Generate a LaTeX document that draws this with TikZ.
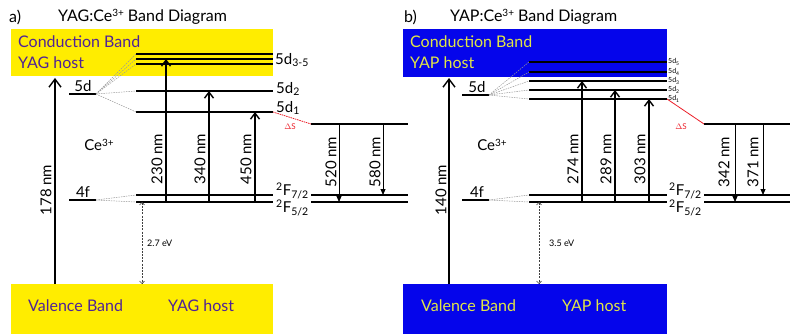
\documentclass[tikz,border=0pt]{standalone}
\usepackage{fontspec}
\setmainfont{Lato}
\usetikzlibrary{arrows.meta}
\definecolor{bandyellow}{RGB}{255,237,0}
\definecolor{bandblue}{RGB}{5,5,235}
\definecolor{txtpurple}{RGB}{80,35,150}
\definecolor{txtyellow}{RGB}{225,230,70}
\definecolor{dsred}{RGB}{235,30,40}
\tikzset{
  lvl/.style={line width=1.3pt},
  lvlthick/.style={line width=2.2pt},
  fan/.style={gray!80, dash pattern=on 1.5pt off 1pt, line width=0.5pt},
  uparr/.style={line width=1.4pt, -{Straight Barb[length=6pt,width=9pt,line width=1.4pt]}},
  bigarr/.style={line width=1.4pt, -{Straight Barb[length=8pt,width=12pt,line width=1.4pt]}},
  dnarr/.style={line width=1pt, -{Triangle[length=6pt,width=5pt]}},
  gaparr/.style={line width=0.6pt, black!75, dash pattern=on 2pt off 1.2pt, {Straight Barb[length=2.5pt,width=5pt,line width=0.6pt]}-{Straight Barb[length=2.5pt,width=5pt,line width=0.6pt]}},
  lab/.style={inner sep=0pt, font=\fontsize{15}{17}\selectfont},
  vlab/.style={inner sep=0pt, rotate=90, font=\fontsize{15}{17}\selectfont},
  bandtxt/.style={inner sep=0pt, anchor=west, font=\fontsize{16}{18}\selectfont},
  small/.style={inner sep=0pt, anchor=west, font=\fontsize{9}{10}\selectfont},
  tiny/.style={inner sep=0pt, anchor=west, font=\fontsize{7}{7}\selectfont},
  title/.style={inner sep=0pt, anchor=west, font=\fontsize{16}{18}\selectfont},
}
\newcommand{\sups}[1]{\raisebox{0.6ex}{\fontsize{10}{10}\selectfont #1}}
\begin{document}
\begin{tikzpicture}[x=1pt,y=-1pt]
\useasboundingbox (0,0) rectangle (790,334);
% ================= panel a =================
\fill[bandyellow] (11,29) rectangle (273,76);
\fill[bandyellow] (11,284) rectangle (273,334);
\node[title] (ta) at (9,17) {a)};
\node[title] (tta) at (58,17) {YAG:Ce\sups{3+} Band Diagram};
\node[bandtxt, text=txtpurple] (cba) at (18,42) {Conduction Band};
\node[bandtxt, text=txtpurple] (cha) at (18,63) {YAG host};
\node[bandtxt, text=txtpurple] (vba) at (28,306) {Valence Band};
\node[bandtxt, text=txtpurple] (vha) at (168,306) {YAG host};
% levels
\coordinate (a5d0) at (69,94); \coordinate (a5d) at (96,94);
\coordinate (a4f0) at (69,200); \coordinate (a4f) at (96,200);
\draw[lvl] (a5d0) -- (a5d);
\draw[lvl] (a4f0) -- (a4f);
\node[lab] (a5dl) at (83,86) {5d};
\node[lab] (a4fl) at (83,192) {4f};
\node[lab] (acel) at (99,145) {Ce\sups{3+}};
\foreach \n/\y in {a/54,b/59,c/64}{
  \coordinate (a53\n L) at (136,\y); \coordinate (a53\n R) at (273,\y);
  \draw[lvlthick] (a53\n L) -- (a53\n R);
  \draw[fan] (a5d) -- (a53\n L);
}
\coordinate (a52L) at (136,91); \coordinate (a52R) at (273,91);
\coordinate (a51L) at (136,112); \coordinate (a51R) at (273,112);
\draw[lvl] (a52L) -- (a52R); \draw[fan] (a5d) -- (a52L);
\draw[lvl] (a51L) -- (a51R); \draw[fan] (a5d) -- (a51L);
\coordinate (aF7L) at (136,195); \coordinate (aF7R) at (273,195);
\coordinate (aF5L) at (136,202); \coordinate (aF5R) at (273,202);
\draw[lvl] (aF7L) -- (aF7R); \draw[fan] (a4f) -- (aF7L);
\draw[lvl] (aF5L) -- (aF5R); \draw[fan] (a4f) -- (aF5L);
\node[lab, anchor=west] (a535l) at (275,60) {5d\textsubscript{3-5}};
\node[lab, anchor=west] (a52l) at (276,89) {5d\textsubscript{2}};
\node[lab, anchor=west] (a51l) at (276,108) {5d\textsubscript{1}};
\node[lab, anchor=west] (aF7l) at (276,191) {\textsuperscript{2}F\textsubscript{7/2}};
\node[lab, anchor=west] (aF5l) at (276,208) {\textsuperscript{2}F\textsubscript{5/2}};
% relaxed levels
\coordinate (aRL) at (311,124); \coordinate (aRR) at (408,124);
\coordinate (aG7L) at (311,195); \coordinate (aG7R) at (408,195);
\coordinate (aG5L) at (311,202); \coordinate (aG5R) at (408,202);
\draw[lvl] (aRL) -- (aRR);
\draw[lvl] (aG7L) -- (aG7R);
\draw[lvl] (aG5L) -- (aG5R);
\draw[dsred, line width=0.8pt, dash pattern=on 1.5pt off 0.8pt] (a51R) -- (aRL);
\node[inner sep=0pt, text=dsred, font=\fontsize{8}{9}\selectfont] (adsl) at (290,127) {$\Delta$S};
% arrows
\coordinate (aVB) at (55,284); \coordinate (aCB) at (55,78);
\draw[bigarr] (aVB) -- (aCB);
\node[vlab] (a178) at (46,190) {178 nm};
\draw[uparr] (166,202) -- (166,59);
\draw[uparr] (209,202) -- (209,91);
\draw[uparr] (255,202) -- (255,112);
\node[vlab] (a230) at (157,159) {230 nm};
\node[vlab] (a340) at (200,159) {340 nm};
\node[vlab] (a450) at (246,159) {450 nm};
\draw[dnarr] (339,124) -- (339,202);
\draw[dnarr] (383,124) -- (383,195);
\node[vlab] (a520) at (331,162) {520 nm};
\node[vlab] (a580) at (375,162) {580 nm};
\coordinate (agapT) at (142,202); \coordinate (agapB) at (142,284);
\draw[gaparr] (agapT) -- (agapB);
\node[small] (agapl) at (147,243) {2.7 eV};
% ================= panel b =================
\fill[bandblue] (403,29) rectangle (667,77);
\fill[bandblue] (403,284) rectangle (667,334);
\node[title] (tb) at (404,17) {b)};
\node[title] (ttb) at (450,17) {YAP:Ce\sups{3+} Band Diagram};
\node[bandtxt, text=txtyellow] (cbb) at (410,42) {Conduction Band};
\node[bandtxt, text=txtyellow] (chb) at (410,63) {YAP host};
\node[bandtxt, text=txtyellow] (vbb) at (421,306) {Valence Band};
\node[bandtxt, text=txtyellow] (vhb) at (562,306) {YAP host};
\coordinate (b5d0) at (462,95); \coordinate (b5d) at (489,95);
\coordinate (b4f0) at (462,200); \coordinate (b4f) at (489,200);
\draw[lvl] (b5d0) -- (b5d);
\draw[lvl] (b4f0) -- (b4f);
\node[lab] (b5dl) at (477,87) {5d};
\node[lab] (b4fl) at (477,192) {4f};
\node[lab] (bcel) at (492,145) {Ce\sups{3+}};
\foreach \n/\y in {5/62,4/72,3/81,2/90,1/99}{
  \coordinate (b5\n L) at (529,\y); \coordinate (b5\n R) at (667,\y);
  \draw[lvl] (b5\n L) -- (b5\n R);
  \draw[fan] (b5d) -- (b5\n L);
  \node[tiny] (b5\n l) at (668,\y) {5d\textsubscript{\n}};
}
\coordinate (bF7L) at (529,195); \coordinate (bF7R) at (667,195);
\coordinate (bF5L) at (529,202); \coordinate (bF5R) at (667,202);
\draw[lvl] (bF7L) -- (bF7R); \draw[fan] (b4f) -- (bF7L);
\draw[lvl] (bF5L) -- (bF5R); \draw[fan] (b4f) -- (bF5L);
\node[lab, anchor=west] (bF7l) at (669,191) {\textsuperscript{2}F\textsubscript{7/2}};
\node[lab, anchor=west] (bF5l) at (669,208) {\textsuperscript{2}F\textsubscript{5/2}};
\coordinate (bRL) at (704,124); \coordinate (bRR) at (790,124);
\coordinate (bG7L) at (704,195); \coordinate (bG7R) at (790,195);
\coordinate (bG5L) at (704,202); \coordinate (bG5R) at (790,202);
\draw[lvl] (bRL) -- (bRR);
\draw[lvl] (bG7L) -- (bG7R);
\draw[lvl] (bG5L) -- (bG5R);
\draw[dsred, line width=0.8pt] (b51R) -- (bRL);
\node[inner sep=0pt, text=dsred, font=\fontsize{8}{9}\selectfont] (bdsl) at (681,127) {$\Delta$S};
\coordinate (bVB) at (449,284); \coordinate (bCB) at (449,78);
\draw[bigarr] (bVB) -- (bCB);
\node[vlab] (b140) at (441,190) {140 nm};
\draw[uparr] (582,202) -- (582,81);
\draw[uparr] (615,202) -- (615,90);
\draw[uparr] (649,202) -- (649,99);
\node[vlab] (b274) at (573,159) {274 nm};
\node[vlab] (b289) at (606,159) {289 nm};
\node[vlab] (b303) at (640,159) {303 nm};
\draw[dnarr] (735,124) -- (735,202);
\draw[dnarr] (763,124) -- (763,195);
\node[vlab] (b342) at (724,162) {342 nm};
\node[vlab] (b371) at (753,162) {371 nm};
\coordinate (bgapT) at (539,202); \coordinate (bgapB) at (539,284);
\draw[gaparr] (bgapT) -- (bgapB);
\node[small] (bgapl) at (549,243) {3.5 eV};
\end{tikzpicture}
\end{document}
